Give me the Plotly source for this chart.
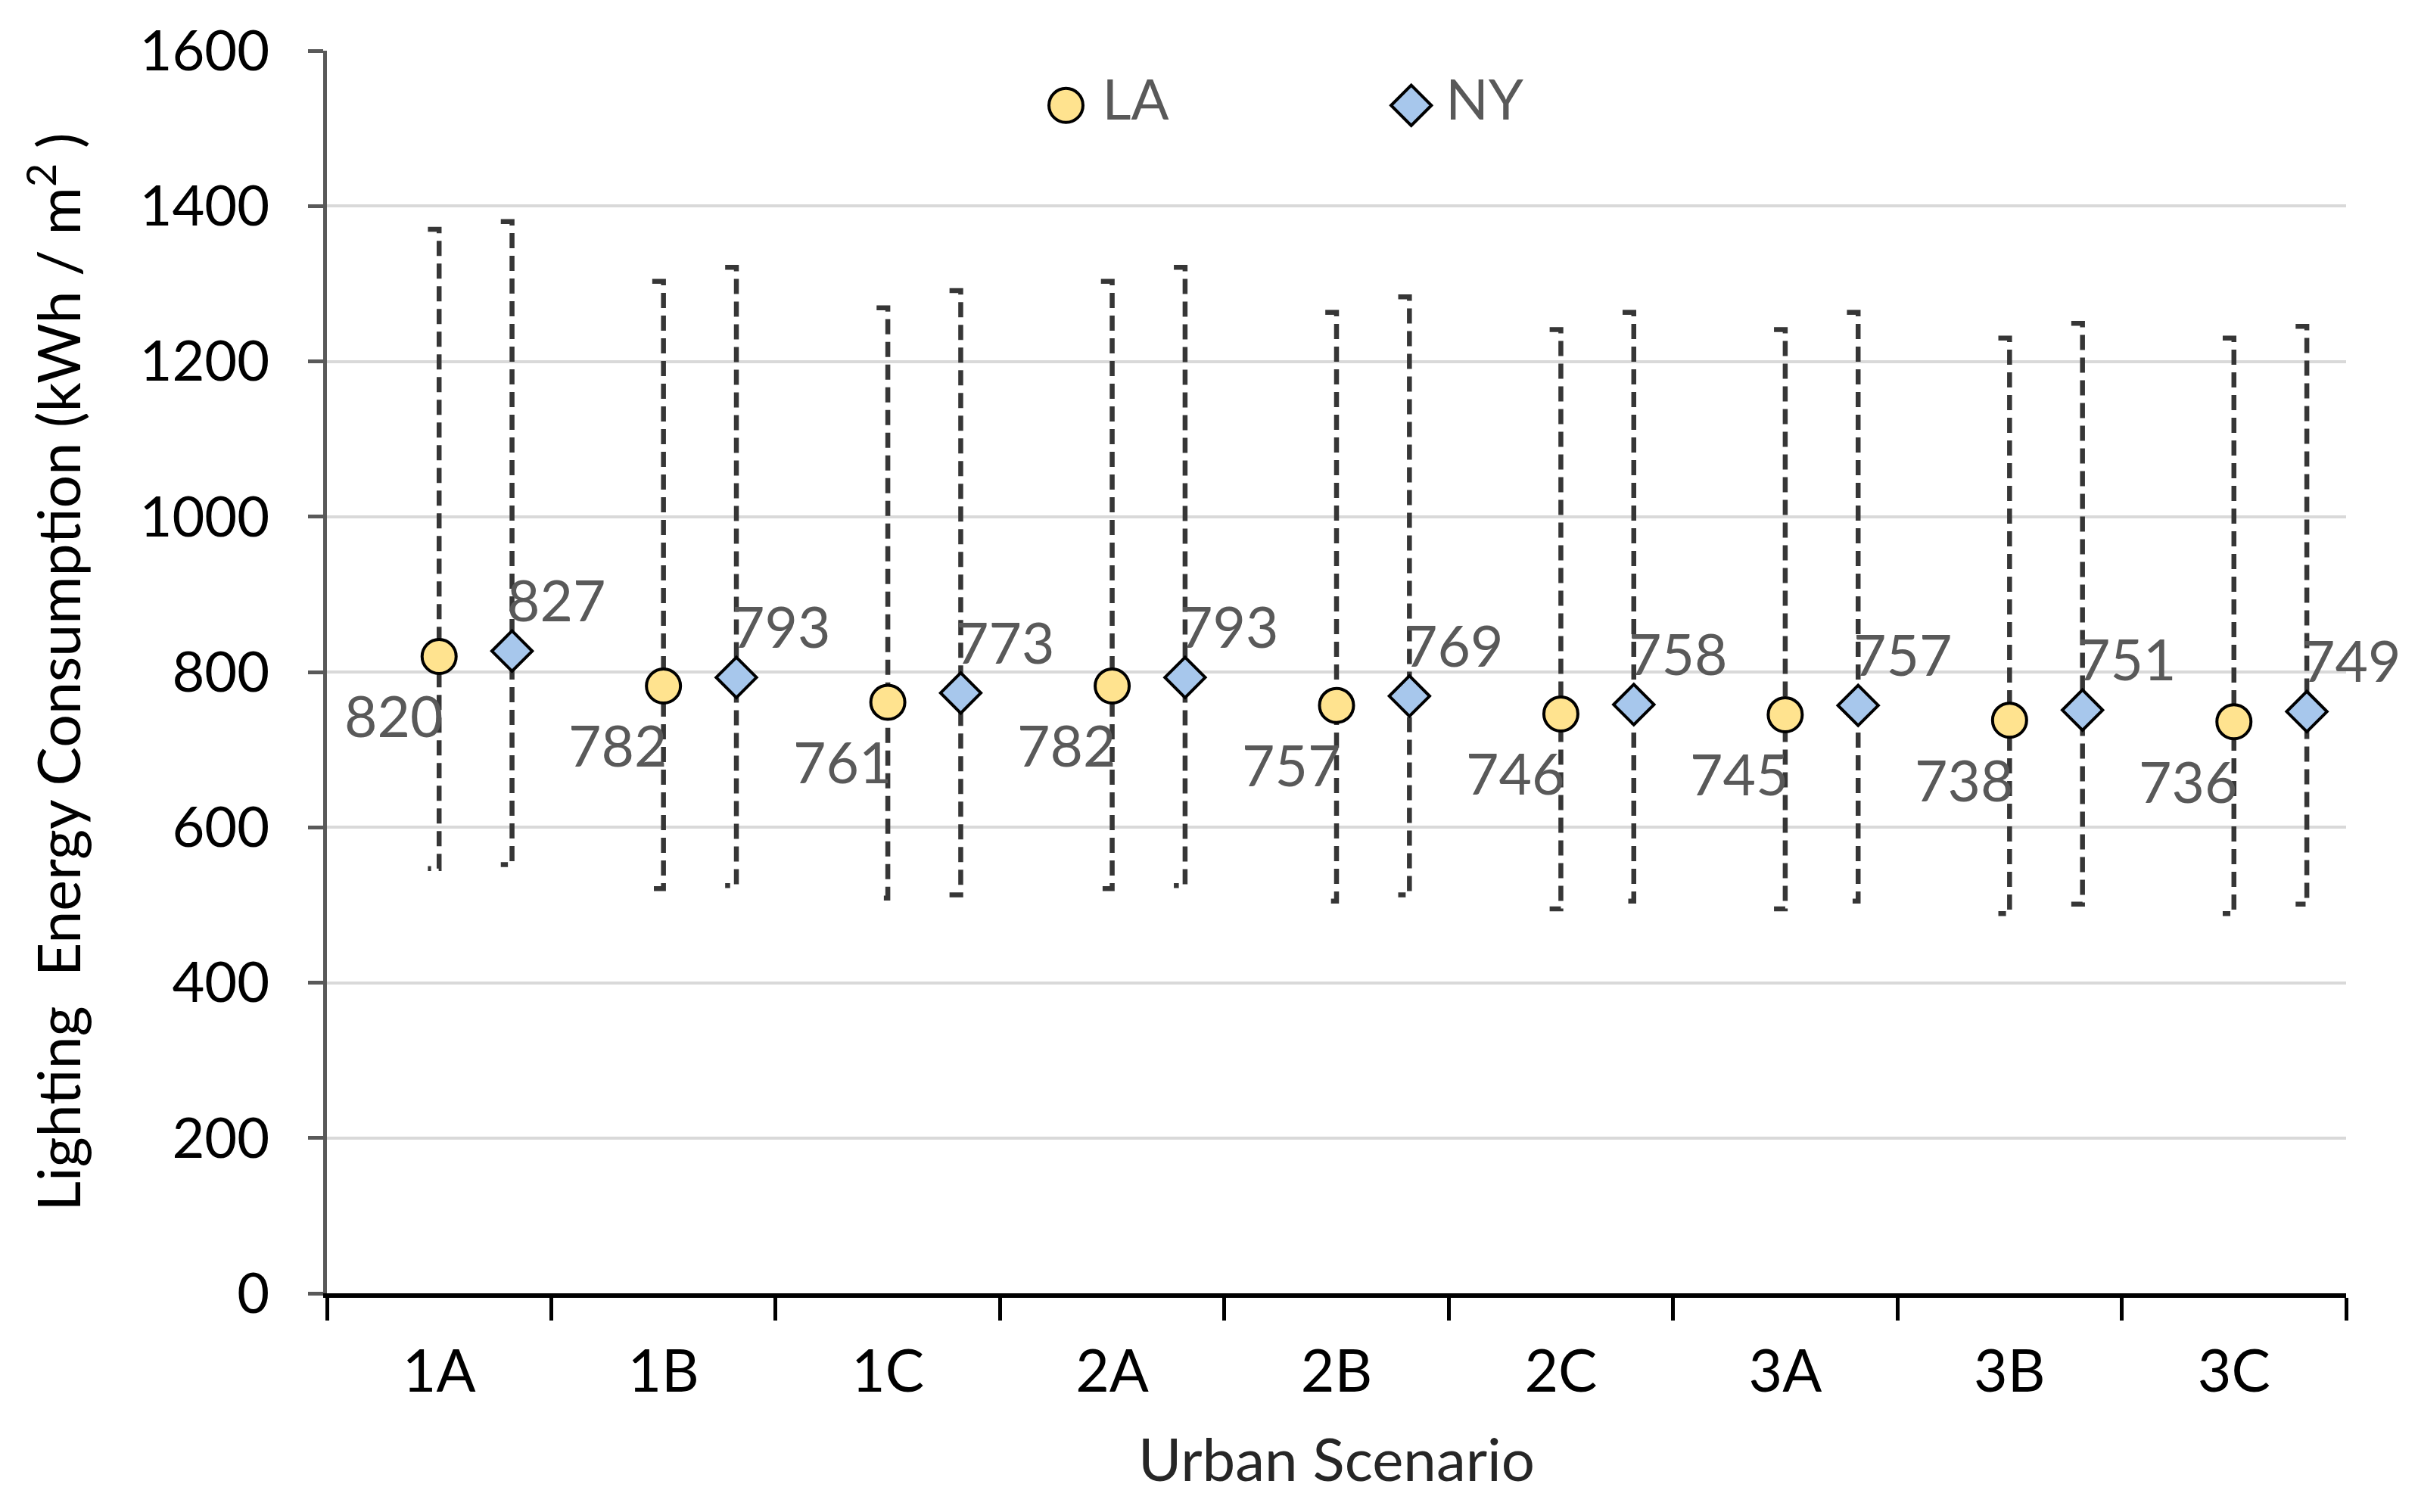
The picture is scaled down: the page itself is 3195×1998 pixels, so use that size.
import plotly.graph_objects as go

# ---------------- data ----------------
categories = ["1A", "1B", "1C", "2A", "2B", "2C", "3A", "3B", "3C"]
la_values = [820, 782, 761, 782, 757, 746, 745, 738, 736]
ny_values = [827, 793, 773, 793, 769, 758, 757, 751, 749]
la_high = [1370, 1303, 1269, 1303, 1263, 1241, 1241, 1230, 1230]
la_low = [547, 521, 509, 521, 505, 495, 495, 489, 489]
ny_high = [1380, 1321, 1291, 1321, 1283, 1263, 1263, 1249, 1245]
ny_low = [552, 525, 513, 525, 513, 505, 505, 501, 501]
y_ticks = [0, 200, 400, 600, 800, 1000, 1200, 1400, 1600]
series_names = ["LA", "NY"]

FONT = "Lato"
W, H = 3195, 1998
NY_OFFSET = 0.325
CAP = 0.05
LA_MARKER = dict(symbol="circle", size=45, color="#FFE38F",
                 line=dict(color="#000000", width=4))
NY_MARKER = dict(symbol="diamond", size=41, color="#A7C7EC",
                 line=dict(color="#000000", width=4))

la_x = [i for i in range(len(categories))]
ny_x = [i + NY_OFFSET for i in range(len(categories))]


def whisker_path(xs, lo, hi):
    px, py = [], []
    for x, l, h in zip(xs, lo, hi):
        px += [x - CAP, x, x, x - CAP, None]
        py += [h, h, l, l, None]
    return px, py


fig = go.Figure()

for xs, lo, hi in [(la_x, la_low, la_high), (ny_x, ny_low, ny_high)]:
    px, py = whisker_path(xs, lo, hi)
    fig.add_trace(go.Scatter(
        x=px, y=py, mode="lines", showlegend=False, hoverinfo="skip",
        line=dict(color="#363636", width=6.5, dash="20px,10px"),
    ))

fig.add_trace(go.Scatter(x=la_x, y=la_values, mode="markers", name="LA",
                         marker=LA_MARKER, showlegend=False))
fig.add_trace(go.Scatter(x=ny_x, y=ny_values, mode="markers", name="NY",
                         marker=NY_MARKER, showlegend=False))

# legend (full-size symbols) on an invisible overlay axis
for name, mk, lx in [(series_names[0], LA_MARKER, 0.366), (series_names[1], NY_MARKER, 0.537)]:
    fig.add_trace(go.Scatter(
        x=[lx], y=[0.956], xaxis="x2", yaxis="y2",
        mode="markers+text", text=["\u00a0" + name], textposition="middle right",
        textfont=dict(family=FONT, size=74, color="#595959"),
        marker=mk, showlegend=False, hoverinfo="skip", cliponaxis=False,
    ))

annotations = []
for x, v in zip(la_x, la_values):
    annotations.append(dict(x=x, y=v, text=str(v), showarrow=False,
                            xshift=-60, yshift=-78,
                            font=dict(family=FONT, size=75, color="#595959")))
for x, v in zip(ny_x, ny_values):
    annotations.append(dict(x=x, y=v, text=str(v), showarrow=False,
                            xshift=59, yshift=68,
                            font=dict(family=FONT, size=75, color="#595959")))

fig.update_layout(
    width=W, height=H,
    margin=dict(l=424, r=103, t=52, b=297),
    paper_bgcolor="white", plot_bgcolor="white",
    font=dict(family=FONT, color="#000000"),
    annotations=annotations,
    showlegend=False,
    xaxis=dict(
        range=[-0.5, 8.5],
        tickmode="array", tickvals=la_x, ticktext=categories,
        ticks="", ticklabelstandoff=32,
        tickfont=dict(family=FONT, size=77, color="#000000"),
        showgrid=False, zeroline=False,
        showline=True, linecolor="#000000", linewidth=6,
        minor=dict(tickmode="array",
                   tickvals=[i - 0.5 for i in range(len(categories) + 1)],
                   ticks="outside", ticklen=30, tickwidth=5, tickcolor="#000000",
                   showgrid=False),
        title=dict(text="Urban Scenario", standoff=50,
                   font=dict(family=FONT, size=78, color="#262626")),
    ),
    yaxis=dict(
        range=[0, 1600],
        tickmode="array", tickvals=y_ticks,
        ticks="outside", ticklen=20, tickwidth=5, tickcolor="#595959",
        ticklabelstandoff=36,
        tickfont=dict(family=FONT, size=74, color="#000000"),
        showgrid=True, gridcolor="#D9D9D9", gridwidth=4,
        zeroline=False,
        showline=True, linecolor="#595959", linewidth=5,
        title=dict(text="Lighting  Energy Consumption (kWh / m<sup>2</sup> )",
                   standoff=54,
                   font=dict(family=FONT, size=77, color="#000000")),
    ),
    xaxis2=dict(domain=[0, 1], range=[0, 1], visible=False,
                overlaying="x", anchor="y2", fixedrange=True),
    yaxis2=dict(domain=[0, 1], range=[0, 1], visible=False,
                overlaying="y", anchor="x2", fixedrange=True),
)

fig.write_html("out.html")
